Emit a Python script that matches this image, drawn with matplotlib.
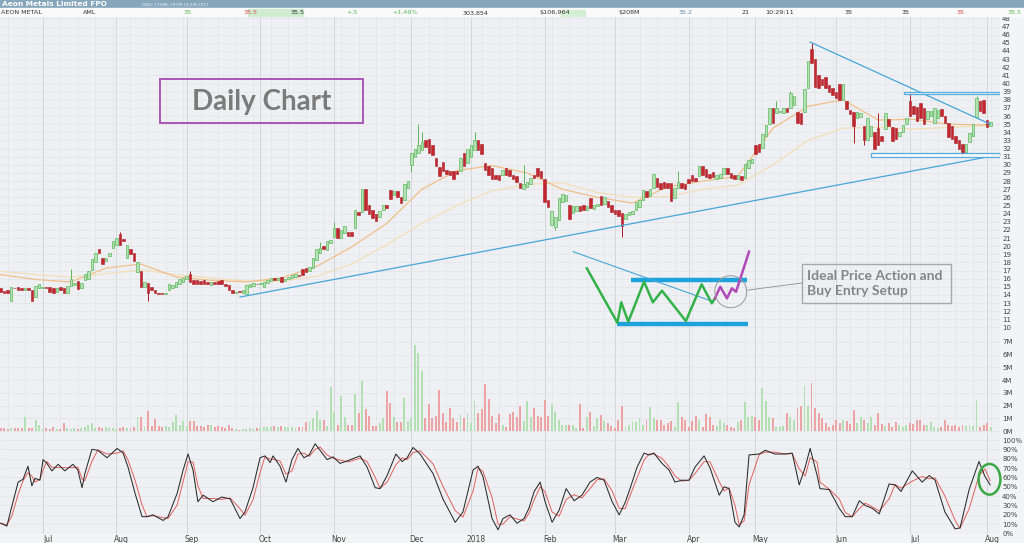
import numpy as np
import pandas as pd
import matplotlib
matplotlib.use('Agg')
import matplotlib.pyplot as plt
from matplotlib.patches import Rectangle, Ellipse

plt.rcParams['font.family'] = ['DejaVu Sans']

# ---- daily candles, AML from 14 Jun 2017 (one row per month) ----
opens = [
    14.8, 14.5, 14.6, 13.2, 14.9, 15.0, 14.9, 14.6, 14.9, 14.6, 13.8, 14.8,                      # Jun
    14.85, 15.0, 15.0, 14.9, 14.4, 15.0, 14.9, 14.3, 15.1, 15.2, 15.7, 14.8, 15.8, 16.0, 17.1,
    18.0, 19.6, 18.5, 18.2, 18.8, 19.8,                                                          # Jul
    20.2, 21.5, 20.9, 18.6, 19.6, 19.2, 16.8, 17.0, 15.0, 15.5, 15.0, 14.6, 14.2, 14.2, 14.15,
    14.6, 14.9, 15.0, 15.4, 15.6,                                                                # Aug
    15.9, 16.6, 15.8, 15.8, 15.7, 15.8, 15.6, 15.2, 15.6, 15.7, 15.8, 15.4, 15.2, 14.6, 14.3,
    14.4, 14.2, 14.1, 15.0, 15.1, 15.4,                                                          # Sep
    15.4, 15.0, 15.5, 15.7, 16.1, 15.8, 16.2, 15.7, 15.9, 16.1, 16.2, 16.5, 17.2, 17.3, 16.9,
    17.3, 18.3, 19.2, 20.0, 19.5, 20.4,                                                          # Oct
    21.1, 22.2, 21.0, 21.6, 21.8, 21.7, 22.2, 24.2, 24.2, 27.0, 25.0, 24.4, 24.0, 23.6, 24.4,
    25.1, 26.9, 26.3, 26.8, 26.1, 25.7, 27.2,                                                    # Nov
    30.0, 31.0, 31.4, 31.8, 33.0, 33.2, 32.5, 30.8, 29.7, 30.3, 29.4, 29.3, 29.2, 29.2, 29.3,
    31.4, 30.2,                                                                                  # Dec
    31.0, 31.8, 33.0, 32.6, 30.2, 29.9, 29.6, 28.8, 28.7, 28.7, 29.6, 29.4, 28.8, 28.6, 27.8,
    27.0, 27.3, 27.6, 28.8, 29.6, 29.3,                                                          # Jan
    28.3, 25.7, 22.6, 22.4, 23.2, 25.4, 25.5, 25.0, 24.1, 24.3, 24.9, 25.0, 24.5, 25.9, 24.6,
    24.9, 26.2, 25.2, 25.6, 25.0,                                                                # Feb
    24.5, 24.4, 24.1, 23.4, 23.8, 23.9, 24.5, 24.8, 25.7, 26.8, 26.2, 27.1, 28.4, 27.8, 27.9,
    27.8, 27.8, 25.9, 27.2, 27.8, 27.6,                                                          # Mar
    28.2, 28.7, 28.4, 28.6, 29.8, 29.5, 28.9, 29.1, 28.3, 28.4, 28.9, 29.6, 29.0, 28.8, 28.2,
    28.6, 28.4, 29.6, 30.2,                                                                      # Apr
    32.4, 32.6, 32.1, 33.6, 35.0, 37.0, 36.4, 36.5, 36.4, 37.0, 37.0, 37.4, 36.5, 36.4, 36.5,
    39.5, 44.2, 43.0, 41.0, 40.6, 40.8, 39.8, 39.5,                                              # May
    39.0, 40.0, 38.0, 37.9, 36.8, 36.5, 35.7, 35.9, 34.8, 33.1, 33.6, 34.0, 34.5, 33.5, 34.4,
    35.6, 34.7, 34.5, 33.5, 34.0, 35.0,                                                          # Jun
    37.8, 37.2, 37.1, 37.6, 37.0, 35.6, 36.0, 35.2, 35.8, 36.9, 36.0, 35.1, 34.8, 33.6, 33.0,
    32.6, 31.6, 32.8, 33.6, 35.9, 37.9, 38.0,                                                    # Jul
    35.5, 34.8,                                                                                  # Aug
]
closes = [
    14.4, 14.3, 14.2, 15.0, 14.8, 14.6, 14.6, 14.9, 14.6, 13.3, 15.1, 15.3,
    14.95, 14.9, 14.4, 14.3, 14.9, 14.6, 14.3, 15.1, 16.0, 15.5, 14.7, 15.5, 16.6, 17.0, 18.4,
    19.1, 19.1, 17.8, 18.6, 19.2, 20.6,
    21.0, 20.2, 20.6, 20.2, 19.0, 18.2, 18.0, 15.0, 15.6, 14.3, 14.6, 14.2, 14.15, 14.15, 14.2,
    15.3, 15.2, 15.6, 15.9, 16.1,
    16.3, 15.6, 15.3, 15.4, 15.3, 15.3, 15.3, 15.6, 15.3, 15.3, 15.4, 15.1, 14.6, 14.3, 14.4,
    14.35, 14.6, 15.2, 15.4, 15.5, 15.3,
    15.5, 15.6, 15.8, 16.1, 15.8, 16.1, 15.6, 16.0, 16.2, 16.5, 16.6, 16.3, 16.5, 16.8, 17.4,
    18.5, 19.6, 19.8, 19.7, 20.6, 20.8,
    22.2, 21.0, 22.0, 22.5, 21.3, 21.2, 24.5, 23.8, 27.0, 24.5, 24.0, 23.5, 23.1, 24.3, 25.0,
    24.7, 25.8, 26.8, 26.1, 25.3, 27.6, 28.0,
    31.4, 32.0, 32.4, 32.8, 32.2, 31.4, 31.2, 29.8, 28.6, 29.2, 28.9, 28.8, 28.2, 28.9, 30.8,
    29.8, 32.0,
    32.4, 33.0, 31.8, 31.3, 29.4, 28.8, 28.3, 28.3, 28.1, 29.4, 28.8, 28.6, 28.2, 27.9, 27.1,
    27.6, 27.9, 28.4, 28.4, 28.6, 28.4,
    25.4, 24.8, 24.3, 23.6, 25.9, 26.4, 26.3, 23.3, 24.9, 24.9, 24.3, 24.4, 24.9, 24.7, 25.0,
    25.2, 25.1, 26.0, 24.8, 24.2,
    24.0, 23.7, 22.5, 24.0, 24.2, 24.3, 25.4, 25.7, 26.9, 26.0, 27.0, 28.9, 27.3, 27.0, 27.1,
    27.1, 25.6, 27.2, 27.9, 27.2, 27.0,
    27.8, 28.0, 28.0, 29.9, 28.8, 28.5, 28.4, 28.5, 28.8, 28.9, 29.6, 28.9, 28.4, 28.3, 28.7,
    28.1, 30.1, 30.6, 30.7,
    31.3, 31.6, 33.8, 34.9, 37.0, 35.2, 37.0, 36.6, 37.0, 36.5, 38.8, 38.5, 35.2, 35.0, 39.3,
    42.8, 42.5, 39.6, 39.5, 39.8, 39.4, 39.0, 38.6,
    38.2, 38.0, 39.9, 36.9, 36.2, 34.8, 36.5, 36.4, 33.0, 35.7, 34.8, 32.0, 32.4, 32.9, 36.4,
    34.8, 32.9, 33.2, 34.0, 34.9, 35.8,
    36.0, 36.2, 35.4, 35.8, 35.0, 36.6, 36.6, 37.0, 36.8, 36.0, 35.1, 33.4, 33.2, 32.7, 32.0,
    31.4, 32.6, 33.9, 35.0, 38.2, 36.6, 36.4,
    34.6, 35.3,
]
# notable wicks: (day, high or low)
wick_highs = [(20, 17.2), (34, 21.8), (54, 17.0), (91, 20.5), (95, 23.0), (119, 35.0), (120, 34.0),
              (135, 34.0), (149, 30.0), (193, 29.2), (221, 37.8), (225, 39.1), (231, 45.0),
              (250, 36.4), (259, 39.0), (278, 38.5)]
wick_lows = [(42, 13.2), (117, 29.1), (158, 22.0), (177, 21.1), (243, 32.7), (246, 32.5), (274, 31.0)]

# volume, millions
volume = [
    0.2, 0.2, 0.15, 0.2, 0.2, 0.2, 0.25, 1.1, 0.2, 0.25, 0.9, 0.5,
    0.15, 0.2, 0.15, 0.35, 0.15, 0.15, 0.65, 0.2, 0.15, 0.2, 0.15, 0.25, 0.3, 0.5, 0.65, 0.2, 0.3,
    0.2, 0.3, 0.25, 0.2,
    0.15, 0.2, 0.3, 0.2, 0.25, 0.3, 1.1, 1.1, 0.3, 1.54, 0.4, 0.92, 0.4, 0.35, 0.4, 0.35, 0.73,
    1.26, 0.5, 0.8,
    0.4, 0.8, 0.75, 0.4, 0.4, 0.3, 0.5, 0.5, 0.35, 0.4, 0.3, 0.25, 0.5, 0.2, 0.15, 0.1, 0.15, 0.15,
    0.2, 0.15, 0.2,
    0.2, 0.3, 0.35, 0.3, 0.4, 0.35, 0.4, 0.3, 0.35, 0.3, 0.25, 0.3, 0.35, 0.7, 0.8, 1.0, 1.6, 0.85,
    0.85, 0.4, 3.47,
    1.5, 0.5, 2.76, 1.07, 0.5, 0.5, 2.9, 1.45, 3.94, 1.7, 1.2, 0.4, 0.4, 0.6, 1.0, 3.1, 2.2, 1.07,
    0.7, 0.7, 2.6, 0.8,
    1.0, 6.74, 6.1, 4.7, 1.0, 2.1, 1.0, 1.2, 3.2, 1.4, 0.73, 1.8, 1.0, 0.73, 1.33, 1.0, 1.4,
    0.6, 2.35, 1.4, 1.7, 3.7, 2.5, 1.2, 0.65, 1.33, 0.5, 0.3, 1.33, 1.5, 1.07, 2.0, 0.8, 2.35, 1.07,
    1.8, 1.2, 1.07,
    2.4, 1.2, 2.1, 1.5, 0.9, 0.5, 0.5, 0.5, 0.5, 0.2, 2.1, 0.2, 1.07, 1.5, 0.4, 1.0, 1.26, 0.8,
    0.65, 0.4,
    0.2, 0.9, 2.0, 0.3, 0.5, 0.8, 0.7, 1.0, 0.5, 0.85, 1.85, 1.0, 0.9, 0.9, 0.5, 0.6, 0.75, 0.3,
    2.3, 1.07, 0.9,
    0.3, 0.8, 1.2, 0.9, 0.3, 1.33, 1.07, 0.5, 0.4, 0.9, 0.65, 0.5, 0.3, 0.25, 0.73, 0.9, 2.3, 1.07,
    1.2,
    1.07, 0.9, 3.4, 2.35, 1.07, 1.0, 0.3, 0.3, 0.4, 1.4, 1.07, 0.85, 1.8, 2.0, 3.5, 1.95, 3.8, 1.8,
    1.4, 1.0, 0.6, 0.35, 0.5,
    0.9, 0.65, 0.85, 0.8, 0.55, 1.65, 0.6, 1.07, 0.85, 0.6, 1.07, 0.5, 1.45, 0.55, 0.4, 0.6, 0.3,
    0.7, 0.5, 0.3, 0.45,
    0.6, 0.55, 0.85, 0.9, 0.5, 0.5, 0.7, 0.3, 0.25, 0.3, 0.9, 0.5, 0.4, 0.45, 0.35, 0.5, 0.4, 0.45,
    0.4, 2.45, 0.3, 0.5,
    0.6, 0.3,
]

# moving averages read every 10 trading days
ma_days = list(range(0, 281, 10)) + [282]
ma_fast = [16.5, 15.9, 15.6, 17.3, 17.8, 16.2, 15.8, 15.6, 16.1, 17.5, 19.9, 22.8, 27.0, 29.3, 29.9,
           29.0, 27.0, 26.0, 25.3, 27.3, 28.0, 28.6, 34.5, 37.2, 38.0, 35.5, 35.6, 35.0, 34.9, 35.1]
ma_slow = [16.9, 16.5, 16.2, 16.6, 17.1, 16.5, 16.1, 15.7, 15.7, 16.3, 17.8, 20.2, 22.8, 25.0, 26.8,
           27.6, 27.8, 26.6, 26.0, 26.1, 27.0, 27.5, 30.0, 33.0, 34.5, 34.6, 34.4, 34.6, 34.8, 34.9]

# slow stochastic %K (day position, value)
stoch_days = [0, 1.8, 3.2, 5, 6.4, 7.8, 8.9, 9.8, 11.2, 12.1,
              13.2, 14.6, 16.4, 18.3, 20.6, 22, 23.2, 24, 26, 27.7,
              30.3, 33.2, 34.9, 36.3, 38.3, 40.3, 41.7, 43.4, 46.3, 47.7,
              50.3, 52, 53.4, 54.8, 56.2, 57.7, 60.5, 63, 65.4, 68.2,
              69.6, 71.9, 73.9, 75.3, 76.8, 77.6, 79.6, 81.3, 83, 84.7,
              86.4, 87.9, 89.6, 91, 93, 94.7, 96.7, 99, 102.4, 104.4,
              106.7, 108.1, 110.1, 112.6, 114.4, 115.8, 117.5, 119.5, 123.2, 126,
              129.5, 131.7, 134.6, 136, 137.4, 140, 141.7, 143.1, 145.1, 147.1,
              149.1, 150.5, 152, 153.7, 155.1, 157.1, 159.1, 161.1, 163.4, 165.6,
              167.9, 169.9, 171.9, 174.2, 176.2, 177.9, 179.3, 181.3, 183.3, 184.7,
              186.1, 188.4, 190.4, 192.1, 194.1, 196.1, 197.8, 200.4, 202.1, 204.7,
              206.1, 207.5, 209.2, 210.4, 211.8, 213.2, 216.1, 217.8, 220.6, 223.5,
              225.5, 227.5, 229.2, 230.6, 232.6, 233.4, 236, 238.9, 240.6, 242.6,
              244.6, 246.3, 248.3, 250.3, 253.1, 254.8, 256.5, 259.7, 262.5, 264.5,
              266.2, 269, 271.9, 273.3, 275.9, 278.7, 280.4, 281.9]
stoch_k = [11, 8, 29, 55, 58, 72, 51, 59, 57, 79,
           75, 67, 74, 67, 74, 68, 49, 64, 90, 89,
           81, 91, 86, 71, 43, 18, 18, 20, 14, 18,
           43, 68, 85, 68, 34, 41, 34, 39, 37, 16,
           23, 49, 81, 83, 76, 83, 72, 55, 79, 91,
           81, 84, 96, 89, 79, 82, 75, 78, 83, 71,
           49, 48, 62, 85, 77, 81, 92, 85, 64, 37,
           12, 23, 68, 72, 61, 16, 4, 16, 20, 11,
           16, 27, 45, 55, 34, 12, 25, 48, 35, 41,
           55, 60, 57, 34, 20, 33, 48, 71, 86, 84,
           86, 75, 68, 55, 57, 57, 71, 83, 70, 41,
           50, 48, 12, 7, 20, 84, 85, 89, 85, 85,
           86, 52, 71, 91, 62, 48, 47, 27, 18, 18,
           35, 30, 27, 21, 53, 52, 45, 67, 55, 62,
           57, 23, 5, 6, 47, 77, 61, 52]

month_starts = [12, 33, 53, 74, 95, 117, 134, 155, 175, 196, 215, 238, 259, 281]
month_labels = ['Jul', 'Aug', 'Sep', 'Oct', 'Nov', 'Dec', '2018', 'Feb', 'Mar', 'Apr', 'May', 'Jun', 'Jul', 'Aug']

# drawn trendlines and zones (day, price)
support_line = [(68.2, 13.74), (284.7, 31.26)]
resist_line = [(230.6, 45.1), (281.9, 35.0)]
zone_top = (257.4, 38.7, 39.0)
zone_bottom = (247.9, 31.0, 31.4)

# "ideal setup" sketch (day, price)
sketch_green = [(167.0, 17.27), (175.7, 10.58), (176.8, 13.09), (178.8, 10.71), (183.3, 15.63),
                (185.8, 13.09), (188.4, 14.52), (195.2, 10.79), (199.7, 15.31), (202.6, 12.97),
                (203.5, 13.6)]
sketch_purple = [(203.5, 13.6), (205.0, 15.01), (206.9, 13.58), (208.3, 14.81), (209.5, 14.40),
                 (213.2, 19.32)]
sketch_top = [(179.6, 15.8), (212.6, 15.8)]
sketch_bottom = [(175.6, 10.42), (212.9, 10.42)]
sketch_trend = [(163.1, 19.32), (203.0, 13.17)]

# ---------------------------------------------------------------
BG = '#eff0f3'
GRID = '#e2e4e8'
MONTH = '#d2d5d9'
UP_FACE, UP_EDGE = '#b4e2b4', '#5cb85c'
DN_FACE, DN_EDGE = '#c4262e', '#a81f26'
TREND = '#45a6d9'

o = np.array(opens)
c = np.array(closes)
N = len(c)
x = np.arange(N)
up = c >= o
vol = np.array(volume)
XMAX = 284.7

fig = plt.figure(figsize=(10.24, 5.43), dpi=100)
fig.patch.set_facecolor('#f3f4f6')

ax_p = fig.add_axes([0, 0.3812, 0.9766, 0.5875])
ax_v = fig.add_axes([0, 0.2007, 0.9766, 0.1805])
ax_s = fig.add_axes([0, 0.0166, 0.9766, 0.1841])
ax_h = fig.add_axes([0, 0.9687, 1, 0.0313])

for ax in (ax_p, ax_v, ax_s):
    ax.set_facecolor(BG)
    ax.set_xlim(-0.17, XMAX)
    for s in ax.spines.values():
        s.set_visible(False)
    ax.yaxis.tick_right()
    ax.tick_params(axis='y', length=0, pad=1.5, labelsize=5.0, colors='#444444')
    ax.set_xticks(month_starts)
    ax.set_xticks(np.arange(2, N, 5), minor=True)
    ax.tick_params(axis='x', which='both', length=0, labelbottom=False)
    ax.grid(axis='x', which='minor', color=GRID, lw=0.5)
    ax.grid(axis='x', which='major', color=MONTH, lw=0.7)
    ax.grid(axis='y', color=GRID, lw=0.5)
    ax.set_axisbelow(True)

# ---- price panel ----
ax_p.set_ylim(8.95, 48.18)
ax_p.set_yticks(range(10, 49))
ax_p.plot(ma_days, ma_slow, color='#f3dfb8', lw=0.9, zorder=2)
ax_p.plot(ma_days, ma_fast, color='#efbf8a', lw=0.9, zorder=2)

for d, h in wick_highs:
    ax_p.vlines(d, max(o[d], c[d]), h, color=UP_EDGE if up[d] else DN_EDGE, lw=0.7, zorder=3)
for d, lo in wick_lows:
    ax_p.vlines(d, lo, min(o[d], c[d]), color=UP_EDGE if up[d] else DN_EDGE, lw=0.7, zorder=3)

body_lo = np.minimum(o, c)
body_h = np.maximum(np.abs(c - o), 0.1)
ax_p.bar(x[up], body_h[up], bottom=body_lo[up], width=0.72, color=UP_FACE,
         edgecolor=UP_EDGE, linewidth=0.5, zorder=4)
ax_p.bar(x[~up], body_h[~up], bottom=body_lo[~up], width=0.72, color=DN_FACE,
         edgecolor=DN_EDGE, linewidth=0.4, zorder=4)

# trendlines and zones
for line in (support_line, resist_line):
    xs, ys = zip(*line)
    ax_p.plot(xs, ys, color=TREND, lw=0.9, zorder=5, clip_on=False)
for x0, y0, y1 in (zone_top, zone_bottom):
    ax_p.add_patch(Rectangle((x0, y0), XMAX - x0, y1 - y0, facecolor='#f7fbfd',
                             edgecolor=TREND, lw=0.9, zorder=5, alpha=0.9))

# "Daily Chart" label
ax_p.add_patch(Rectangle((45.4, 35.14), 57.9, 5.42, facecolor='none', edgecolor='#a957b6', lw=1.4, zorder=6))
ax_p.text(74.4, 37.75, 'Daily Chart', ha='center', va='center', fontsize=20, fontweight='bold',
          color='#7b7b7b', family=['Lato', 'DejaVu Sans'], zorder=7)

# ideal setup sketch
xs, ys = zip(*sketch_top)
ax_p.plot(xs, ys, color='#1ea2dc', lw=3.2, solid_capstyle='butt', zorder=6)
xs, ys = zip(*sketch_bottom)
ax_p.plot(xs, ys, color='#1ea2dc', lw=3.2, solid_capstyle='butt', zorder=6)
xs, ys = zip(*sketch_trend)
ax_p.plot(xs, ys, color=TREND, lw=0.8, zorder=6)
xs, ys = zip(*sketch_green)
ax_p.plot(xs, ys, color='#33b24a', lw=1.8, zorder=7)
xs, ys = zip(*sketch_purple)
ax_p.plot(xs, ys, color='#b04ab8', lw=1.8, zorder=7)
ax_p.add_patch(Ellipse((208.0, 14.4), 9.1, 3.94, facecolor='none', edgecolor='#9a9a9a', lw=0.7, zorder=7))
ax_p.plot([212.9, 228.3], [14.6, 15.47], color='#9a9a9a', lw=0.7, zorder=7)
ax_p.add_patch(Rectangle((228.3, 13.0), 42.5, 4.8, facecolor='none', edgecolor='#a8a8a8', lw=1.0, zorder=7))
ax_p.text(229.6, 15.4, 'Ideal Price Action and\nBuy Entry Setup', ha='left', va='center', fontsize=10,
          fontweight='bold', color='#858585', family=['Lato', 'DejaVu Sans'], linespacing=1.35, zorder=8)

# ---- volume panel ----
ax_v.set_ylim(-0.235, 7.45)
ax_v.set_yticks(range(0, 8))
ax_v.set_yticklabels([f'{v}M' for v in range(0, 8)])
ax_v.bar(x[up], vol[up], width=0.55, color='#b3e0b3', zorder=3)
ax_v.bar(x[~up], vol[~up], width=0.55, color='#eba3a3', zorder=3)

# ---- stochastic panel ----
k = pd.Series(stoch_k, dtype=float)
d = k.rolling(2, min_periods=1).mean()
ax_s.set_ylim(-0.5, 106.4)
ax_s.set_yticks(range(0, 101, 10))
ax_s.set_yticklabels([f'{v}%' for v in range(0, 101, 10)])
ax_s.plot(stoch_days, d, color='#e0605c', lw=0.7, zorder=3)
ax_s.plot(stoch_days, k, color='#2b2b2b', lw=0.75, zorder=4)
ax_s.add_patch(Ellipse((281.7, 58), 6.2, 32.8, facecolor='none', edgecolor='#39a845', lw=1.8,
                       zorder=5, clip_on=False))
ax_s.set_xticks([m + 1.4 for m in month_starts], minor=True)
ax_s.set_xticklabels(month_labels, minor=True)
ax_s.tick_params(axis='x', which='minor', labelbottom=True, labelsize=5.5, pad=1, colors='#444444')
ax_s.grid(axis='x', which='minor', visible=False)

# ---- header strip ----
ax_h.set_xlim(0, 1024)
ax_h.set_ylim(17, 0)
ax_h.axis('off')
ax_h.add_patch(Rectangle((0, 0), 1024, 8.5, color='#86a6bb'))
ax_h.add_patch(Rectangle((0, 8.5), 1024, 8.5, color='#fafafa'))
ax_h.add_patch(Rectangle((248, 9), 55, 7.5, color='#cfeccf'))
ax_h.add_patch(Rectangle((561, 10), 24, 6, color='#d3eed3'))
ax_h.text(2, 4.4, 'Aeon Metals Limited FPO', color='white', fontsize=5.3, fontweight='bold', va='center')
ax_h.text(142, 4.8, 'DAILY 1YEAR, FROM 14 JUN 2017', color='#e8eef2', fontsize=3.0, va='center')
header_cells = [(1, 'AEON METAL', '#333333'), (83, 'AML', '#333333'), (184, '35', '#5cb85c'),
                (244, '35.5', '#d9534f'), (291, '35.5', '#333333'), (346, '+.5', '#5cb85c'),
                (392, '+1.49%', '#5cb85c'), (463, '303,854', '#333333'), (539, '$106,964', '#333333'),
                (618, '$208M', '#333333'), (679, '35.2', '#6a8fb0'), (742, '21', '#333333'),
                (765, '10:29:11', '#333333'), (845, '35', '#333333'), (902, '35', '#333333'),
                (957, '35', '#d9534f'), (1008, '35.5', '#5cb85c')]
for hx, label, col in header_cells:
    ax_h.text(hx, 12.8, label, color=col, fontsize=4.6, va='center')

fig.savefig('out.png', dpi=100, facecolor=fig.get_facecolor())
